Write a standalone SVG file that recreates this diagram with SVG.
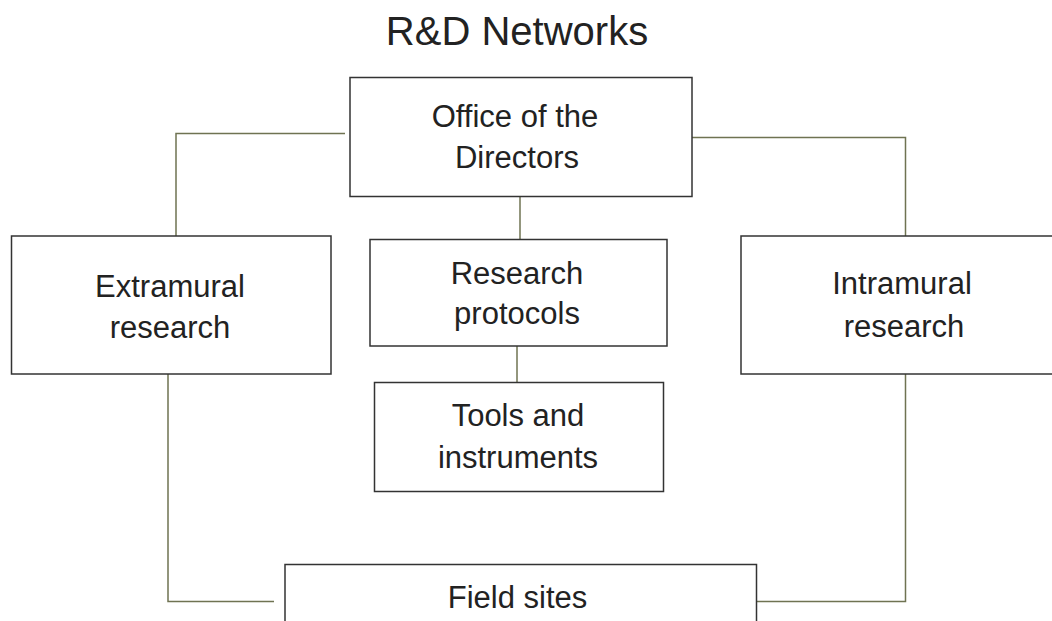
<svg xmlns="http://www.w3.org/2000/svg" width="1052" height="621" viewBox="0 0 1052 621">
<style>
.box{fill:#fff;stroke:#333;stroke-width:1.5}
.lbl{font-family:"Liberation Sans",Arial,sans-serif;font-size:31px;fill:#222;text-anchor:middle}
.title{font-family:"Liberation Sans",Arial,sans-serif;font-size:40px;fill:#222;text-anchor:middle}
.con{fill:none;stroke:#6f7352;stroke-width:1.5}
</style>
<rect width="1052" height="621" fill="#fff"/>
<text class="title" x="517" y="45">R&amp;D Networks</text>
<g id="connectors">
<polyline class="con" points="345,133.5 176,133.5 176,236"/>
<polyline class="con" points="692,137.5 905.5,137.5 905.5,236"/>
<line class="con" x1="520" y1="197" x2="520" y2="240"/>
<line class="con" x1="517" y1="346" x2="517" y2="382"/>
<polyline class="con" points="168,374 168,601.5 274,601.5"/>
<polyline class="con" points="905.5,374 905.5,601.5 753,601.5"/>
</g>
<g id="office">
<rect class="box" x="350" y="77.5" width="342" height="119"/>
<text class="lbl" x="515" y="127">Office of the</text>
<text class="lbl" x="517" y="168">Directors</text>
</g>
<g id="extramural">
<rect class="box" x="11.5" y="236" width="319.5" height="138"/>
<text class="lbl" x="170" y="297">Extramural</text>
<text class="lbl" x="170" y="338">research</text>
</g>
<g id="protocols">
<rect class="box" x="370" y="239.5" width="297" height="106.5"/>
<text class="lbl" x="517" y="284">Research</text>
<text class="lbl" x="517" y="324">protocols</text>
</g>
<g id="tools">
<rect class="box" x="374.5" y="382.5" width="289" height="109"/>
<text class="lbl" x="518" y="426">Tools and</text>
<text class="lbl" x="518" y="468">instruments</text>
</g>
<g id="intramural">
<rect class="box" x="741" y="236" width="330" height="138"/>
<text class="lbl" x="902" y="294">Intramural</text>
<text class="lbl" x="904" y="337">research</text>
</g>
<g id="field">
<rect class="box" x="285" y="564.5" width="471.5" height="80"/>
<text class="lbl" x="517.5" y="608">Field sites</text>
</g>
</svg>
